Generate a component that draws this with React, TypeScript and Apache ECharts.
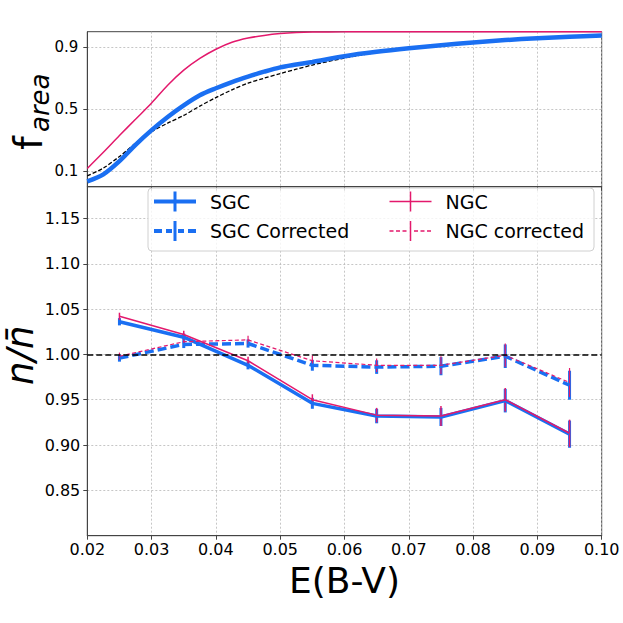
import React, { useEffect, useRef } from "react";
import * as echarts from "echarts";

// ---------- top panel: f_area curves ----------
const F_EBV = [0.02, 0.0225, 0.025, 0.0275, 0.03, 0.0325, 0.035, 0.0375, 0.04, 0.0425, 0.045, 0.0475, 0.05, 0.0525, 0.055, 0.06, 0.065, 0.07, 0.075, 0.08, 0.085, 0.09, 0.095, 0.1];
const F_SGC = [0.035, 0.08, 0.165, 0.27, 0.365, 0.45, 0.525, 0.59, 0.635, 0.675, 0.71, 0.742, 0.77, 0.788, 0.805, 0.842, 0.87, 0.893, 0.913, 0.93, 0.946, 0.958, 0.968, 0.975];
const F_NGC = [0.118, 0.222, 0.33, 0.435, 0.54, 0.655, 0.752, 0.828, 0.887, 0.932, 0.959, 0.976, 0.988, 0.995, 0.998, 0.999, 1.0, 1.0, 1.0, 1.0, 1.0, 1.0, 1.0, 1.0];
const F_REF = [0.07, 0.12, 0.195, 0.28, 0.355, 0.41, 0.46, 0.52, 0.575, 0.625, 0.668, 0.7, 0.73, 0.758, 0.785, 0.83, 0.866, 0.892, 0.913, 0.93, 0.946, 0.958, 0.968, 0.975];

// ---------- bottom panel: n / n-bar ----------
const EBV_BINS = [0.025, 0.035, 0.045, 0.055, 0.065, 0.075, 0.085, 0.095];
const SGC = [1.036, 1.019, 0.988, 0.946, 0.932, 0.931, 0.949, 0.912];
const SGC_ERR = [0.004, 0.004, 0.0045, 0.006, 0.008, 0.01, 0.013, 0.015];
const SGC_CORR = [0.996, 1.011, 1.012, 0.988, 0.986, 0.987, 0.998, 0.966];
const SGC_CORR_ERR = [0.004, 0.004, 0.0045, 0.006, 0.0075, 0.01, 0.013, 0.016];
const NGC = [1.042, 1.022, 0.993, 0.95, 0.933, 0.932, 0.95, 0.913];
const NGC_ERR = [0.004, 0.004, 0.0045, 0.006, 0.008, 0.011, 0.013, 0.015];
const NGC_CORR = [0.998, 1.014, 1.016, 0.993, 0.988, 0.988, 0.999, 0.969];
const NGC_CORR_ERR = [0.004, 0.004, 0.0045, 0.006, 0.0075, 0.01, 0.013, 0.016];

const X_TICKS_MIN = 0.02;
const X_TICKS_MAX = 0.1;
const X_STEP = 0.01;
const TOP_Y_TICKS = [0.1, 0.5, 0.9];
const BOT_Y_TICKS = [0.85, 0.9, 0.95, 1.0, 1.05, 1.1, 1.15];
const LEGEND_LEFT = ["SGC", "SGC Corrected"];
const LEGEND_RIGHT = ["NGC", "NGC corrected"];

const BLUE = "#1a6ff2";
const PINK = "#e3196c";
const FONT = "DejaVu Sans";
const SPINE = "#444";

const ICONS: Record<string, string> = {
  SGC: "path://M0,8L42,8L42,12L0,12Z M19.5,0L22.5,0L22.5,20L19.5,20Z M51,10L51,10.01Z",
  "SGC Corrected":
    "path://M0,8L8,8L8,12L0,12Z M12,8L18,8L18,12L12,12Z M24,8L30,8L30,12L24,12Z M34,8L42,8L42,12L34,12Z M19.5,0L22.5,0L22.5,20L19.5,20Z M51,10L51,10.01Z",
  NGC: "path://M0,9.25L42,9.25L42,10.75L0,10.75Z M20.25,0L21.75,0L21.75,20L20.25,20Z M51,10L51,10.01Z",
  "NGC corrected":
    "path://M0,9.3L4,9.3L4,10.7L0,10.7Z M6.5,9.3L10.5,9.3L10.5,10.7L6.5,10.7Z M13,9.3L17,9.3L17,10.7L13,10.7Z M24.5,9.3L28.5,9.3L28.5,10.7L24.5,10.7Z M31,9.3L35,9.3L35,10.7L31,10.7Z M37.5,9.3L41.5,9.3L41.5,10.7L37.5,10.7Z M20.25,0L21.75,0L21.75,20L20.25,20Z M51,10L51,10.01Z",
};

const zip = (xs: number[], ys: number[]) => xs.map((x, i) => [x, ys[i]]);

function errSeries(name: string, ys: number[], es: number[], color: string, width: number) {
  return {
    type: "custom",
    name: name + " err",
    xAxisIndex: 1,
    yAxisIndex: 1,
    silent: true,
    clip: false,
    data: EBV_BINS.map((x, i) => [x, ys[i], es[i]]),
    encode: { x: 0, y: 1 },
    renderItem: (_p: any, api: any) => {
      const x = api.value(0);
      const y = api.value(1);
      const e = api.value(2);
      const a = api.coord([x, y - e]);
      const b = api.coord([x, y + e]);
      return {
        type: "line",
        shape: { x1: a[0], y1: a[1], x2: b[0], y2: b[1] },
        style: { stroke: color, lineWidth: width },
      };
    },
  };
}

function lineSeries(name: string, ys: number[], color: string, width: number, type: any) {
  return {
    type: "line",
    name,
    xAxisIndex: 1,
    yAxisIndex: 1,
    data: zip(EBV_BINS, ys),
    symbol: "none",
    showSymbol: false,
    itemStyle: { color },
    lineStyle: { color, width, type },
    silent: true,
  };
}

function curveSeries(name: string, ys: number[], color: string, width: number, type: any) {
  return {
    type: "line",
    name,
    xAxisIndex: 0,
    yAxisIndex: 0,
    data: zip(F_EBV, ys),
    symbol: "none",
    smooth: 0.3,
    lineStyle: { color, width, type },
    silent: true,
  };
}

const gridLine = { show: true, lineStyle: { color: "#b8b8b8", width: 0.8, type: [2, 2] } };

function xAxis(gridIndex: number, labels: boolean) {
  return {
    type: "value",
    gridIndex,
    min: X_TICKS_MIN,
    max: X_TICKS_MAX,
    interval: X_STEP,
    axisLine: { show: true, onZero: false, lineStyle: { color: SPINE, width: 1 } },
    axisTick: { show: true, inside: false, length: 4, lineStyle: { color: SPINE, width: 1 } },
    axisLabel: {
      show: labels,
      fontSize: 16,
      fontFamily: FONT,
      color: "#000",
      margin: 6,
      formatter: (v: number) => v.toFixed(2),
      hideOverlap: false,
    },
    splitLine: gridLine,
    ...(labels
      ? {
          name: "E(B-V)",
          nameLocation: "middle",
          nameGap: 27,
          nameTextStyle: { fontSize: 36, fontFamily: FONT, color: "#000" },
        }
      : {}),
  };
}

export default function App() {
  const ref = useRef<HTMLDivElement>(null);
  useEffect(() => {
    const chart = echarts.init(ref.current!, null, { renderer: "svg" });
    const option: any = {
      animation: false,
      backgroundColor: "#fff",
      textStyle: { fontFamily: FONT },
      grid: [
        { left: 87.3, top: 31.7, width: 514.4, height: 155, show: true, borderColor: SPINE, borderWidth: 1, backgroundColor: "transparent" },
        { left: 87.3, top: 186.7, width: 514.4, height: 349, show: true, borderColor: SPINE, borderWidth: 1, backgroundColor: "transparent" },
      ],
      xAxis: [xAxis(0, false), xAxis(1, true)],
      yAxis: [
        {
          type: "value",
          gridIndex: 0,
          min: 0,
          max: 1,
          axisLine: { show: true, onZero: false, lineStyle: { color: SPINE, width: 1 } },
          axisTick: { show: true, length: 4, customValues: TOP_Y_TICKS, lineStyle: { color: SPINE } },
          axisLabel: {
            customValues: TOP_Y_TICKS,
            fontSize: 15,
            fontFamily: FONT,
            color: "#000",
            margin: 9,
            formatter: (v: number) => v.toFixed(1),
          },
          splitLine: gridLine,
        },
        {
          type: "value",
          gridIndex: 1,
          min: 0.8,
          max: 1.185,
          axisLine: { show: true, onZero: false, lineStyle: { color: SPINE, width: 1 } },
          axisTick: { show: true, length: 4, customValues: BOT_Y_TICKS, lineStyle: { color: SPINE } },
          axisLabel: {
            customValues: BOT_Y_TICKS,
            fontSize: 16,
            fontFamily: FONT,
            color: "#000",
            margin: 7,
            formatter: (v: number) => v.toFixed(2),
          },
          splitLine: gridLine,
        },
      ],
      legend: [
        {
          left: 154,
          top: 191.5,
          orient: "vertical",
          padding: 0,
          itemGap: 9.5,
          itemWidth: 51,
          itemHeight: 20,
          selectedMode: false,
          itemStyle: { borderWidth: 0 },
          textStyle: { fontSize: 19, fontFamily: FONT, color: "#000" },
          data: LEGEND_LEFT.map((n) => ({ name: n, icon: ICONS[n] })),
          z: 10,
        },
        {
          left: 389.5,
          top: 191.5,
          orient: "vertical",
          padding: 0,
          itemGap: 9.5,
          itemWidth: 51,
          itemHeight: 20,
          selectedMode: false,
          itemStyle: { borderWidth: 0 },
          textStyle: { fontSize: 19, fontFamily: FONT, color: "#000" },
          data: LEGEND_RIGHT.map((n) => ({ name: n, icon: ICONS[n] })),
          z: 10,
        },
      ],
      graphic: [
        {
          type: "rect",
          z: 5,
          silent: true,
          shape: { x: 148, y: 188, width: 446, height: 63, r: 4 },
          style: { fill: "rgba(255,255,255,0.8)", stroke: "#d0d0d0", lineWidth: 1 },
        },
        {
          type: "text",
          x: 28.2,
          y: 150,
          rotation: Math.PI / 2,
          style: { text: "f", font: `39px "${FONT}"`, fill: "#000", align: "left", verticalAlign: "middle" },
        },
        {
          type: "text",
          x: 40,
          y: 132,
          rotation: Math.PI / 2,
          style: { text: "area", font: `italic 26px "${FONT}"`, fill: "#000", align: "left", verticalAlign: "middle" },
        },
        {
          type: "text",
          x: 20,
          y: 385,
          rotation: Math.PI / 2,
          style: { text: "n/n\u0304", font: `italic 37px "${FONT}"`, fill: "#000", align: "left", verticalAlign: "middle" },
        },
      ],
      series: [
        // top panel
        curveSeries("NGC f_area", F_NGC, PINK, 1.5, "solid"),
        curveSeries("reference f_area", F_REF, "#000", 1.3, [4, 2]),
        curveSeries("SGC f_area", F_SGC, BLUE, 4.5, "solid"),
        // bottom panel reference line at 1
        {
          type: "line",
          name: "unity",
          xAxisIndex: 1,
          yAxisIndex: 1,
          data: [],
          symbol: "none",
          markLine: {
            silent: true,
            symbol: "none",
            label: { show: false },
            lineStyle: { color: "#000", width: 1.6, type: [6, 3] },
            data: [{ yAxis: 1.0 }],
          },
        },
        lineSeries("SGC", SGC, BLUE, 3.5, "solid"),
        errSeries("SGC", SGC, SGC_ERR, BLUE, 3),
        lineSeries("SGC Corrected", SGC_CORR, BLUE, 3.5, [9, 4]),
        errSeries("SGC Corrected", SGC_CORR, SGC_CORR_ERR, BLUE, 3),
        lineSeries("NGC", NGC, PINK, 1.5, "solid"),
        errSeries("NGC", NGC, NGC_ERR, PINK, 1.5),
        lineSeries("NGC corrected", NGC_CORR, PINK, 1.2, [4, 2.5]),
        errSeries("NGC corrected", NGC_CORR, NGC_CORR_ERR, PINK, 1.2),
      ],
    };
    chart.setOption(option);
    return () => chart.dispose();
  }, []);
  return (
    <div
      ref={ref}
      style={{ position: "fixed", left: 0, top: 0, width: 623, height: 623, background: "#fff" }}
    />
  );
}
